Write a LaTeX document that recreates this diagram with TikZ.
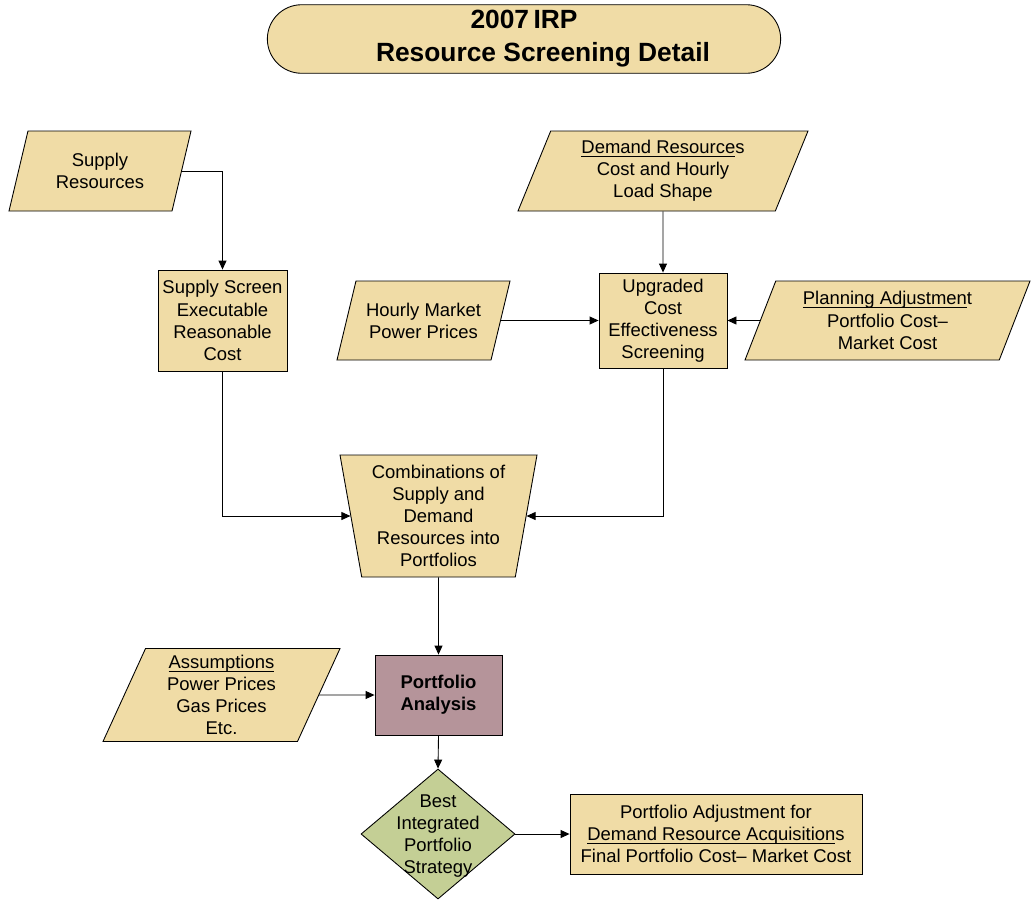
\documentclass[tikz,border=0pt]{standalone}
\usepackage{fontspec}
\setmainfont{Liberation Sans}
\usetikzlibrary{shapes.geometric, shapes.misc, arrows.meta, positioning}
\definecolor{tanfill}{HTML}{F0DCA6}
\definecolor{mauve}{HTML}{B5949A}
\definecolor{sage}{HTML}{C4CF95}
\newcommand{\undl}[1]{\setbox0=\hbox{#1}\rlap{\rule[-1.8pt]{\wd0}{0.45pt}}\box0}

\begin{document}
\begin{tikzpicture}[
    every node/.style={font=\fontsize{10.5}{12.6}\selectfont, align=center},
    box/.style={draw, fill=tanfill, line width=0.5pt, inner sep=1pt},
    io/.style={box, trapezium, trapezium left angle=62, trapezium right angle=118,
               trapezium stretches body, inner sep=0pt},
    title/.style={draw, fill=tanfill, rounded rectangle, line width=0.5pt,
                  minimum width=10.5cm, minimum height=1.32cm,
                  font=\fontsize{15}{18.7}\selectfont\bfseries},
    arr/.style={-{Triangle[length=1.8mm, width=1.6mm]}, line width=0.5pt}
]
    \useasboundingbox (0,0) rectangle (20.62,-17.98);

    \node[title] (title) at (10.48,-0.78)
        {2007\,IRP\\\hspace*{0.76cm}Resource Screening Detail};

    % inputs along the top
    \node[io, minimum width=3.64cm, minimum height=1.6cm]  (supply) at (2.0,-3.42)
        {Supply\\Resources};
    \node[io, minimum width=5.8cm, minimum height=1.6cm]   (demand) at (13.26,-3.42)
        {\undl{Demand Resource}s\\Cost and Hourly\\Load Shape};

    \node[box, minimum width=2.58cm, minimum height=2.02cm] (screen) at (4.45,-6.41)
        {Supply Screen\\Executable\\Reasonable\\Cost};
    \node[box, minimum width=2.56cm, minimum height=1.9cm]  (upgrade) at (13.26,-6.41)
        {Upgraded\\Cost\\Effectiveness\\Screening};
    \node[io, minimum width=3.46cm, minimum height=1.58cm]  (hourly) at (8.47,-6.41)
        {Hourly Market\\Power Prices};
    \node[io, minimum width=5.7cm, minimum height=1.58cm]   (planadj) at (17.75,-6.41)
        {\undl{Planning Adjustmen}t\\Portfolio Cost--\\Market Cost};

    \node[box, trapezium, trapezium left angle=102, trapezium right angle=102,
          trapezium stretches body, inner sep=0pt,
          minimum width=3.94cm, minimum height=2.44cm] (combo) at (8.77,-10.32)
        {Combinations of\\Supply and\\Demand\\Resources into\\Portfolios};

    \node[io, minimum width=4.74cm, minimum height=1.86cm] (assume) at (4.43,-13.9)
        {\undl{Assumptions}\\Power Prices\\Gas Prices\\Etc.};
    \node[box, fill=mauve, minimum width=2.54cm, minimum height=1.6cm] (analysis) at (8.77,-13.9)
        {\bfseries Portfolio\\\bfseries Analysis};

    \node[draw, fill=sage, diamond, line width=0.5pt, inner sep=0pt,
          minimum width=3.08cm, minimum height=2.6cm] (best) at (8.76,-16.68) {};
    \node (besttext) at (8.76,-16.72) {Best\\Integrated\\Portfolio\\Strategy};

    \node[box, minimum width=5.84cm, minimum height=1.6cm] (final) at (14.32,-16.68)
        {Portfolio Adjustment for\\\undl{Demand Resource Acquisition}s\\Final Portfolio Cost-- Market Cost};

    \draw[arr] (supply.east) -| (screen.north);
    \draw[arr] (demand.south) -- (upgrade.north);
    \draw[arr] (hourly.east) -- (upgrade.west);
    \draw[arr] (planadj.west) -- (upgrade.east);
    \draw[arr] (screen.south) |- (combo.west);
    \draw[arr] (upgrade.south) |- (combo.east);
    \draw[arr] (combo.south) -- (analysis.north);
    \draw[arr] (assume.east) -- (analysis.west);
    \draw[arr] (analysis.south) -- (best.north);
    \draw[arr] (best.east) -- (final.west);
\end{tikzpicture}
\end{document}
